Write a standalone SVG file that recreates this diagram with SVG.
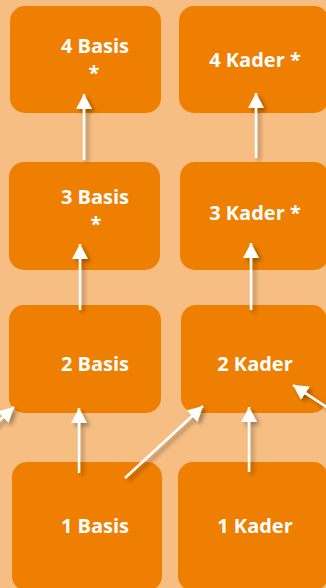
<svg xmlns="http://www.w3.org/2000/svg" width="326" height="588" viewBox="0 0 326 588">
<defs>
<style>
.box{fill:#EF7F00}
.t{fill:#FFFFFF;font-family:"Open Sans","Liberation Sans",sans-serif;font-weight:bold;font-size:20px;text-anchor:middle}
.c{stroke:#FFFFFF;stroke-width:2.5;fill:none;marker-end:url(#ah)}
</style>
<marker id="ah" markerUnits="userSpaceOnUse" markerWidth="16" markerHeight="16" refX="15" refY="8" orient="auto">
<path d="M0,0 L15,8 L0,16 Z" fill="#FFFFFF"/>
</marker>
<filter id="sh" x="-50%" y="-50%" width="200%" height="200%">
<feDropShadow dx="3" dy="3" stdDeviation="2" flood-color="#000" flood-opacity="0.35"/>
</filter>
</defs>
<rect width="326" height="588" fill="#F6BE83"/>
<g id="basis4"><rect class="box" x="10" y="6" width="151" height="107" rx="15"/><text class="t" x="95" y="53">4 Basis</text><text class="t" x="94" y="80">*</text></g>
<g id="kader4"><rect class="box" x="179" y="6" width="150" height="107" rx="15"/><text class="t" x="255" y="67">4 Kader *</text></g>
<g id="basis3"><rect class="box" x="9" y="162" width="151" height="108" rx="15"/><text class="t" x="95" y="204">3 Basis</text><text class="t" x="96" y="231">*</text></g>
<g id="kader3"><rect class="box" x="180" y="162" width="149" height="108" rx="15"/><text class="t" x="255" y="220">3 Kader *</text></g>
<g id="basis2"><rect class="box" x="9" y="305" width="152" height="108" rx="15"/><text class="t" x="95" y="371">2 Basis</text></g>
<g id="kader2"><rect class="box" x="181" y="305" width="146" height="108" rx="15"/><text class="t" x="255" y="371">2 Kader</text></g>
<g id="basis1"><rect class="box" x="12" y="462" width="150" height="129" rx="15"/><text class="t" x="95" y="533">1 Basis</text></g>
<g id="kader1"><rect class="box" x="178" y="462" width="150" height="129" rx="15"/><text class="t" x="255" y="533">1 Kader</text></g>
<g id="connectors" filter="url(#sh)">
<line class="c" x1="84" y1="160" x2="84" y2="94"/>
<line class="c" x1="256" y1="158" x2="256" y2="93"/>
<line class="c" x1="80" y1="310" x2="80" y2="244"/>
<line class="c" x1="251" y1="310" x2="251" y2="243"/>
<line class="c" x1="79" y1="473" x2="79" y2="408"/>
<line class="c" x1="249" y1="472" x2="249" y2="407"/>
<line class="c" x1="125" y1="478" x2="203" y2="406"/>
<line class="c" x1="334" y1="412" x2="293" y2="385"/>
<line class="c" x1="-12" y1="431" x2="14" y2="407"/>
</g>
</svg>
